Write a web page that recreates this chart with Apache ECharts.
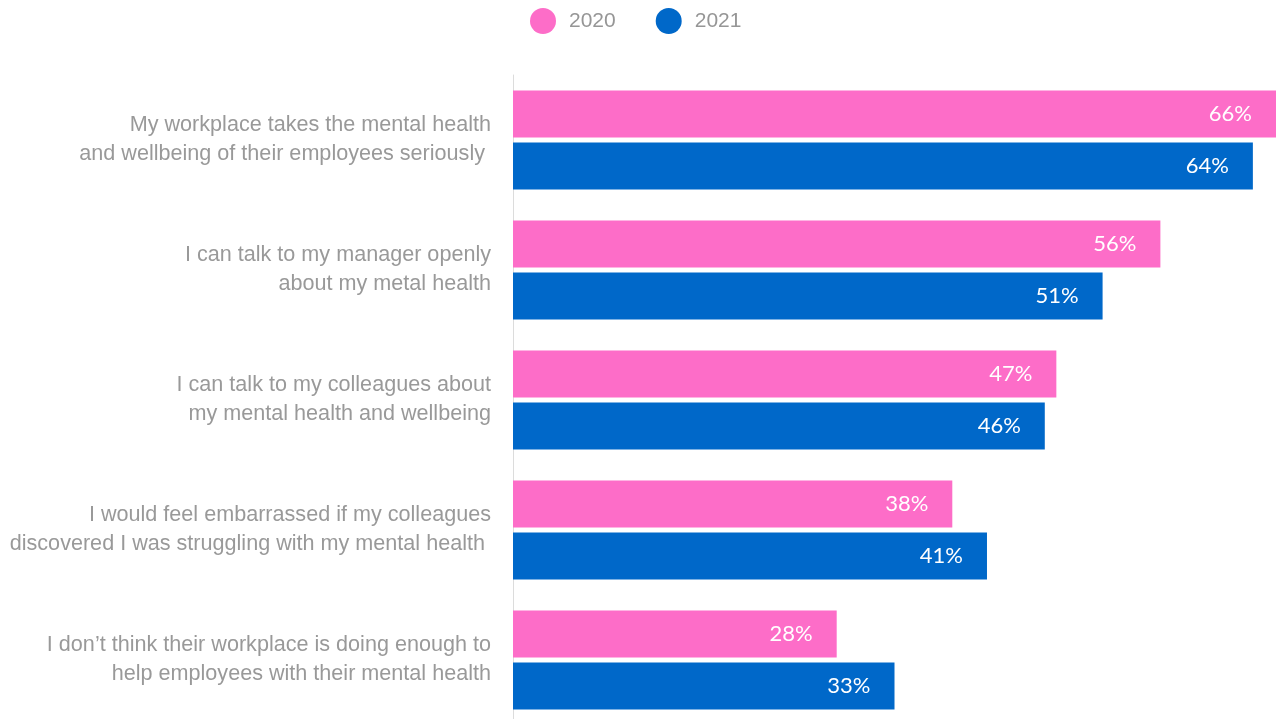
<!DOCTYPE html>
<html>
<head>
<meta charset="utf-8">
<style>
html,body{margin:0;padding:0;background:#fff;}
#chart{width:1276px;height:719px;}
</style>
<script src="https://cdn.jsdelivr.net/npm/echarts@6/dist/echarts.min.js"></script>
</head>
<body>
<div id="chart"></div>
<script>
const categories = [
  "My workplace takes the mental health\nand wellbeing of their employees seriously ",
  "I can talk to my manager openly\nabout my metal health",
  "I can talk to my colleagues about\nmy mental health and wellbeing",
  "I would feel embarrassed if my colleagues\ndiscovered I was struggling with my mental health ",
  "I don’t think their workplace is doing enough to\nhelp employees with their mental health"
];
const seriesNames = ["2020", "2021"];
const values2020 = [66, 56, 47, 38, 28];
const values2021 = [64, 51, 46, 41, 33];
const colors = ["#FD6DC8", "#0068C9"];

const chart = echarts.init(document.getElementById('chart'), null, {renderer: 'canvas'});
const labelStyle = {
  show: true,
  position: 'insideRight',
  distance: 24,
  color: '#fff',
  fontFamily: 'Lato',
  fontSize: 22,
  formatter: p => p.value + '%'
};
chart.setOption({
  animation: false,
  color: colors,
  legend: {
    top: 3,
    left: 525,
    icon: 'circle',
    itemWidth: 26,
    itemHeight: 26,
    itemGap: 40,
    textStyle: {color: '#969696', fontSize: 21, fontFamily: 'Liberation Sans', padding: [0, 0, 0, 8]},
    data: seriesNames
  },
  grid: {left: 513, right: 0, top: 75, bottom: -6, containLabel: false, outerBoundsMode: 'none'},
  xAxis: {
    type: 'value', min: 0, max: 66,
    show: false
  },
  yAxis: {
    type: 'category',
    inverse: true,
    data: categories,
    axisLine: {show: true, lineStyle: {color: '#dcdcdc', width: 1}},
    axisTick: {show: false},
    axisLabel: {
      margin: 22,
      color: '#999999',
      fontSize: 21.6,
      lineHeight: 29,
      fontFamily: 'Liberation Sans',
      align: 'right',
      padding: [0, 0, 14, 0]
    }
  },
  series: [
    {name: seriesNames[0], type: 'bar', data: values2020, barWidth: 47, barGap: '11%', label: labelStyle},
    {name: seriesNames[1], type: 'bar', data: values2021, barWidth: 47, barGap: '11%', label: labelStyle}
  ]
});
</script>
</body>
</html>
